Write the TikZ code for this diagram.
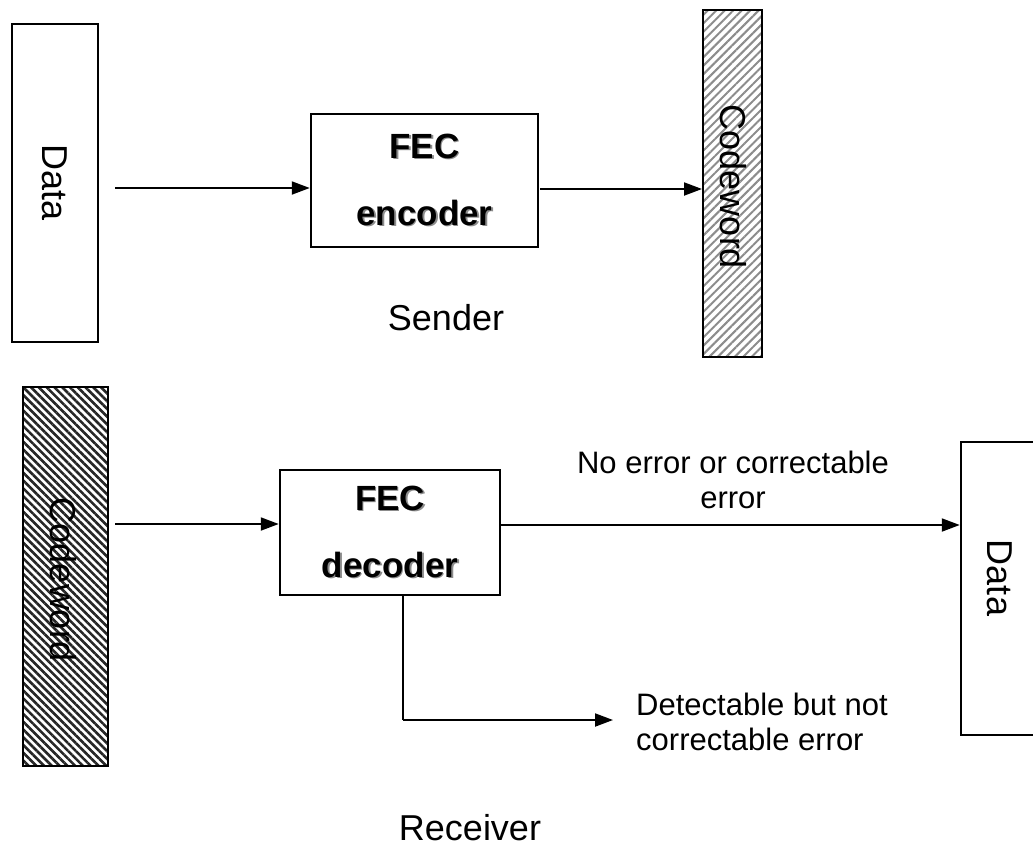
\documentclass[tikz,border=0pt]{standalone}
\usepackage{fontspec}
\setmainfont{Liberation Sans}
\usetikzlibrary{arrows.meta,patterns.meta}
\newcommand{\shd}[1]{\leavevmode\rlap{\kern1.6pt\raisebox{-1.6pt}{\textcolor{black!45}{#1}}}#1}
\tikzset{
  box/.style={draw=black,line width=2.5pt,inner sep=0pt},
  conn/.style={line width=2pt,-{Triangle[length=18pt,width=13pt]}},
  plain/.style={line width=2pt},
  big/.style={font=\fontsize{36}{40}\selectfont},
  lbl/.style={font=\fontsize{31}{35}\selectfont,align=center,inner sep=0pt},
  fec/.style={box,font=\fontsize{35}{67}\selectfont\bfseries,align=center},
}
\begin{document}
\begin{tikzpicture}[x=1pt,y=-1pt]
\useasboundingbox (0,0) rectangle (1033,854);
\clip (0,0) rectangle (1033,854);
% sender
\node[box,minimum width=86pt,minimum height=318pt] (dataA) at (55,183) {};
\node[big,rotate=-90] (dataAt) at (dataA.center) {Data};
\node[fec,minimum width=227pt,minimum height=133pt] (enc) at (424.5,180.5) {\shd{FEC}\\\shd{encoder}};
\node[box,minimum width=59pt,minimum height=347pt,
  pattern={Lines[angle=45,distance=6pt,line width=2pt]},pattern color=black!45] (cwA) at (732.5,183.5) {};
\node[big,rotate=-90] (cwAt) at (733,187) {Codeword};
\node[big] (sender) at (446,318) {Sender};
\coordinate (a1) at (115,188);
\coordinate (a2) at (540,189);
\draw[conn] (a1) -- (a1 -| enc.west);
\draw[conn] (a2) -- (a2 -| cwA.west);
% receiver
\node[box,minimum width=85pt,minimum height=379pt,
  pattern={Lines[angle=-45,distance=5.5pt,line width=2.6pt]},pattern color=black!85] (cwB) at (65.5,576.5) {};
\node[big,rotate=-90] (cwBt) at (63,580) {Codeword};
\node[fec,minimum width=220pt,minimum height=125pt] (dec) at (390,532.5) {\shd{FEC}\\\shd{decoder}};
\node[box,minimum width=84pt,minimum height=293pt] (dataB) at (1003,588.5) {};
\node[big,rotate=-90] (dataBt) at (1000,578) {Data};
\node[lbl] (l1) at (733,480) {No error or correctable\\error};
\node[lbl,align=left,anchor=west] (l2) at (636,722) {Detectable but not\\correctable error};
\node[big] (receiver) at (470,828) {Receiver};
\coordinate (b1) at (115,524);
\coordinate (b2) at (500,525);
\coordinate (b3) at (403,720);
\coordinate (b4) at (613,720);
\draw[conn] (b1) -- (b1 -| dec.west);
\draw[conn] (b2) -- (b2 -| dataB.west);
\draw[plain] (b3 |- dec.south) -- (b3);
\draw[conn] (b3) -- (b4);
\end{tikzpicture}
\end{document}
